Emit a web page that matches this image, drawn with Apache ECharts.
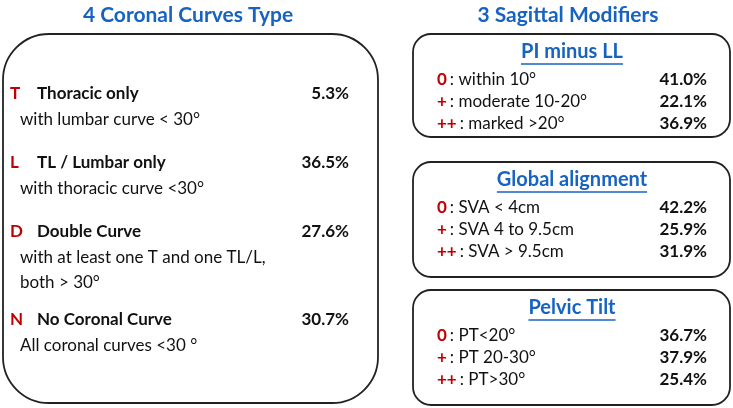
<!DOCTYPE html>
<html><head><meta charset="utf-8">
<script src="https://cdn.jsdelivr.net/npm/echarts@6/dist/echarts.min.js"></script>
<style>html,body{margin:0;padding:0;background:#fff}#c{width:733px;height:408px}</style>
</head><body><div id="c"></div>
<script>
// ---- data ----
var leftTitle = "4 Coronal Curves Type";
var rightTitle = "3 Sagittal Modifiers";
var coronalCodes = ["T", "L", "D", "N"];
var coronalNames = ["Thoracic only", "TL / Lumbar only", "Double Curve", "No Coronal Curve"];
var coronalDesc = [["with lumbar curve < 30°"], ["with thoracic curve <30°"], ["with at least one T and one TL/L,", "both > 30°"], ["All coronal curves <30 °"]];
var coronalPct = ["5.3%", "36.5%", "27.6%", "30.7%"];
var modifierTitles = ["PI minus LL", "Global alignment", "Pelvic Tilt"];
var modifierCodes = ["0", "+", "++"];
var modifierDesc = [
  ["within 10°", "moderate 10-20°", "marked >20°"],
  ["SVA < 4cm", "SVA 4 to 9.5cm", "SVA > 9.5cm"],
  ["PT<20°", "PT 20-30°", "PT>30°"]
];
var modifierPct = [
  ["41.0%", "22.1%", "36.9%"],
  ["42.2%", "25.9%", "31.9%"],
  ["36.7%", "37.9%", "25.4%"]
];

// ---- layout ----
var FONT = "Lato";
var BLUE = "#1763c2", RED = "#c00000", INK = "#111";
var ctx = document.createElement("canvas").getContext("2d");
function tw(txt, size, weight) { ctx.font = (weight || "normal") + " " + size + "px " + FONT; return ctx.measureText(txt).width; }

var els = [];
function text(x, y, str, o) {
  o = o || {};
  els.push({ type: "text", x: x, y: y, style: {
    text: str, fill: o.fill || INK, font: (o.weight || "normal") + " " + (o.size || 16) + "px " + FONT,
    textAlign: o.align || "left", textVerticalAlign: "middle" } });
}
// titles
text(188, 15, leftTitle, { fill: BLUE, weight: "bold", size: 21, align: "center" });
text(568, 15, rightTitle, { fill: BLUE, weight: "bold", size: 21, align: "center" });

// left box
els.push({ type: "rect", shape: { x: 3, y: 34, width: 375, height: 369, r: 46 },
  style: { fill: "#fff", stroke: "#222", lineWidth: 1.8 } });
var rowY = [94, 163, 232, 320];
coronalCodes.forEach(function (c, i) {
  var y = rowY[i];
  text(10, y, c, { fill: RED, weight: "bold", size: 17 });
  text(37, y, coronalNames[i], { weight: "bold", size: 17 });
  text(349, y, coronalPct[i], { weight: "bold", size: 17, align: "right" });
  coronalDesc[i].forEach(function (d, j) { text(20, y + 26 + j * 25, d, { size: 17 }); });
});

// right boxes
var boxY = [[34, 137], [162, 277], [290, 405]];
modifierTitles.forEach(function (t, k) {
  var y0 = boxY[k][0], y1 = boxY[k][1];
  els.push({ type: "rect", shape: { x: 413, y: y0, width: 317, height: y1 - y0, r: 18 },
    style: { fill: "#fff", stroke: "#222", lineWidth: 1.8 } });
  var ty = y0 + 18;
  text(572, ty, t, { fill: BLUE, weight: "bold", size: 20, align: "center" });
  var w = tw(t, 20, "bold");
  els.push({ type: "line", shape: { x1: 572 - w / 2, y1: ty + 12, x2: 572 + w / 2, y2: ty + 12 },
    style: { stroke: BLUE, lineWidth: 1.3 } });
  modifierCodes.forEach(function (c, i) {
    var y = y0 + 46 + i * 22;
    var cw = tw(c, 17, "bold");
    text(437, y, c, { fill: RED, weight: "bold", size: 17 });
    text(437 + cw + 3, y, ": " + modifierDesc[k][i], { size: 17 });
    text(707, y, modifierPct[k][i], { weight: "bold", size: 17, align: "right" });
  });
});

var chart = echarts.init(document.getElementById("c"), null, { renderer: "canvas" });
chart.setOption({ backgroundColor: "#fff", animation: false, graphic: { elements: els } });
</script></body></html>
